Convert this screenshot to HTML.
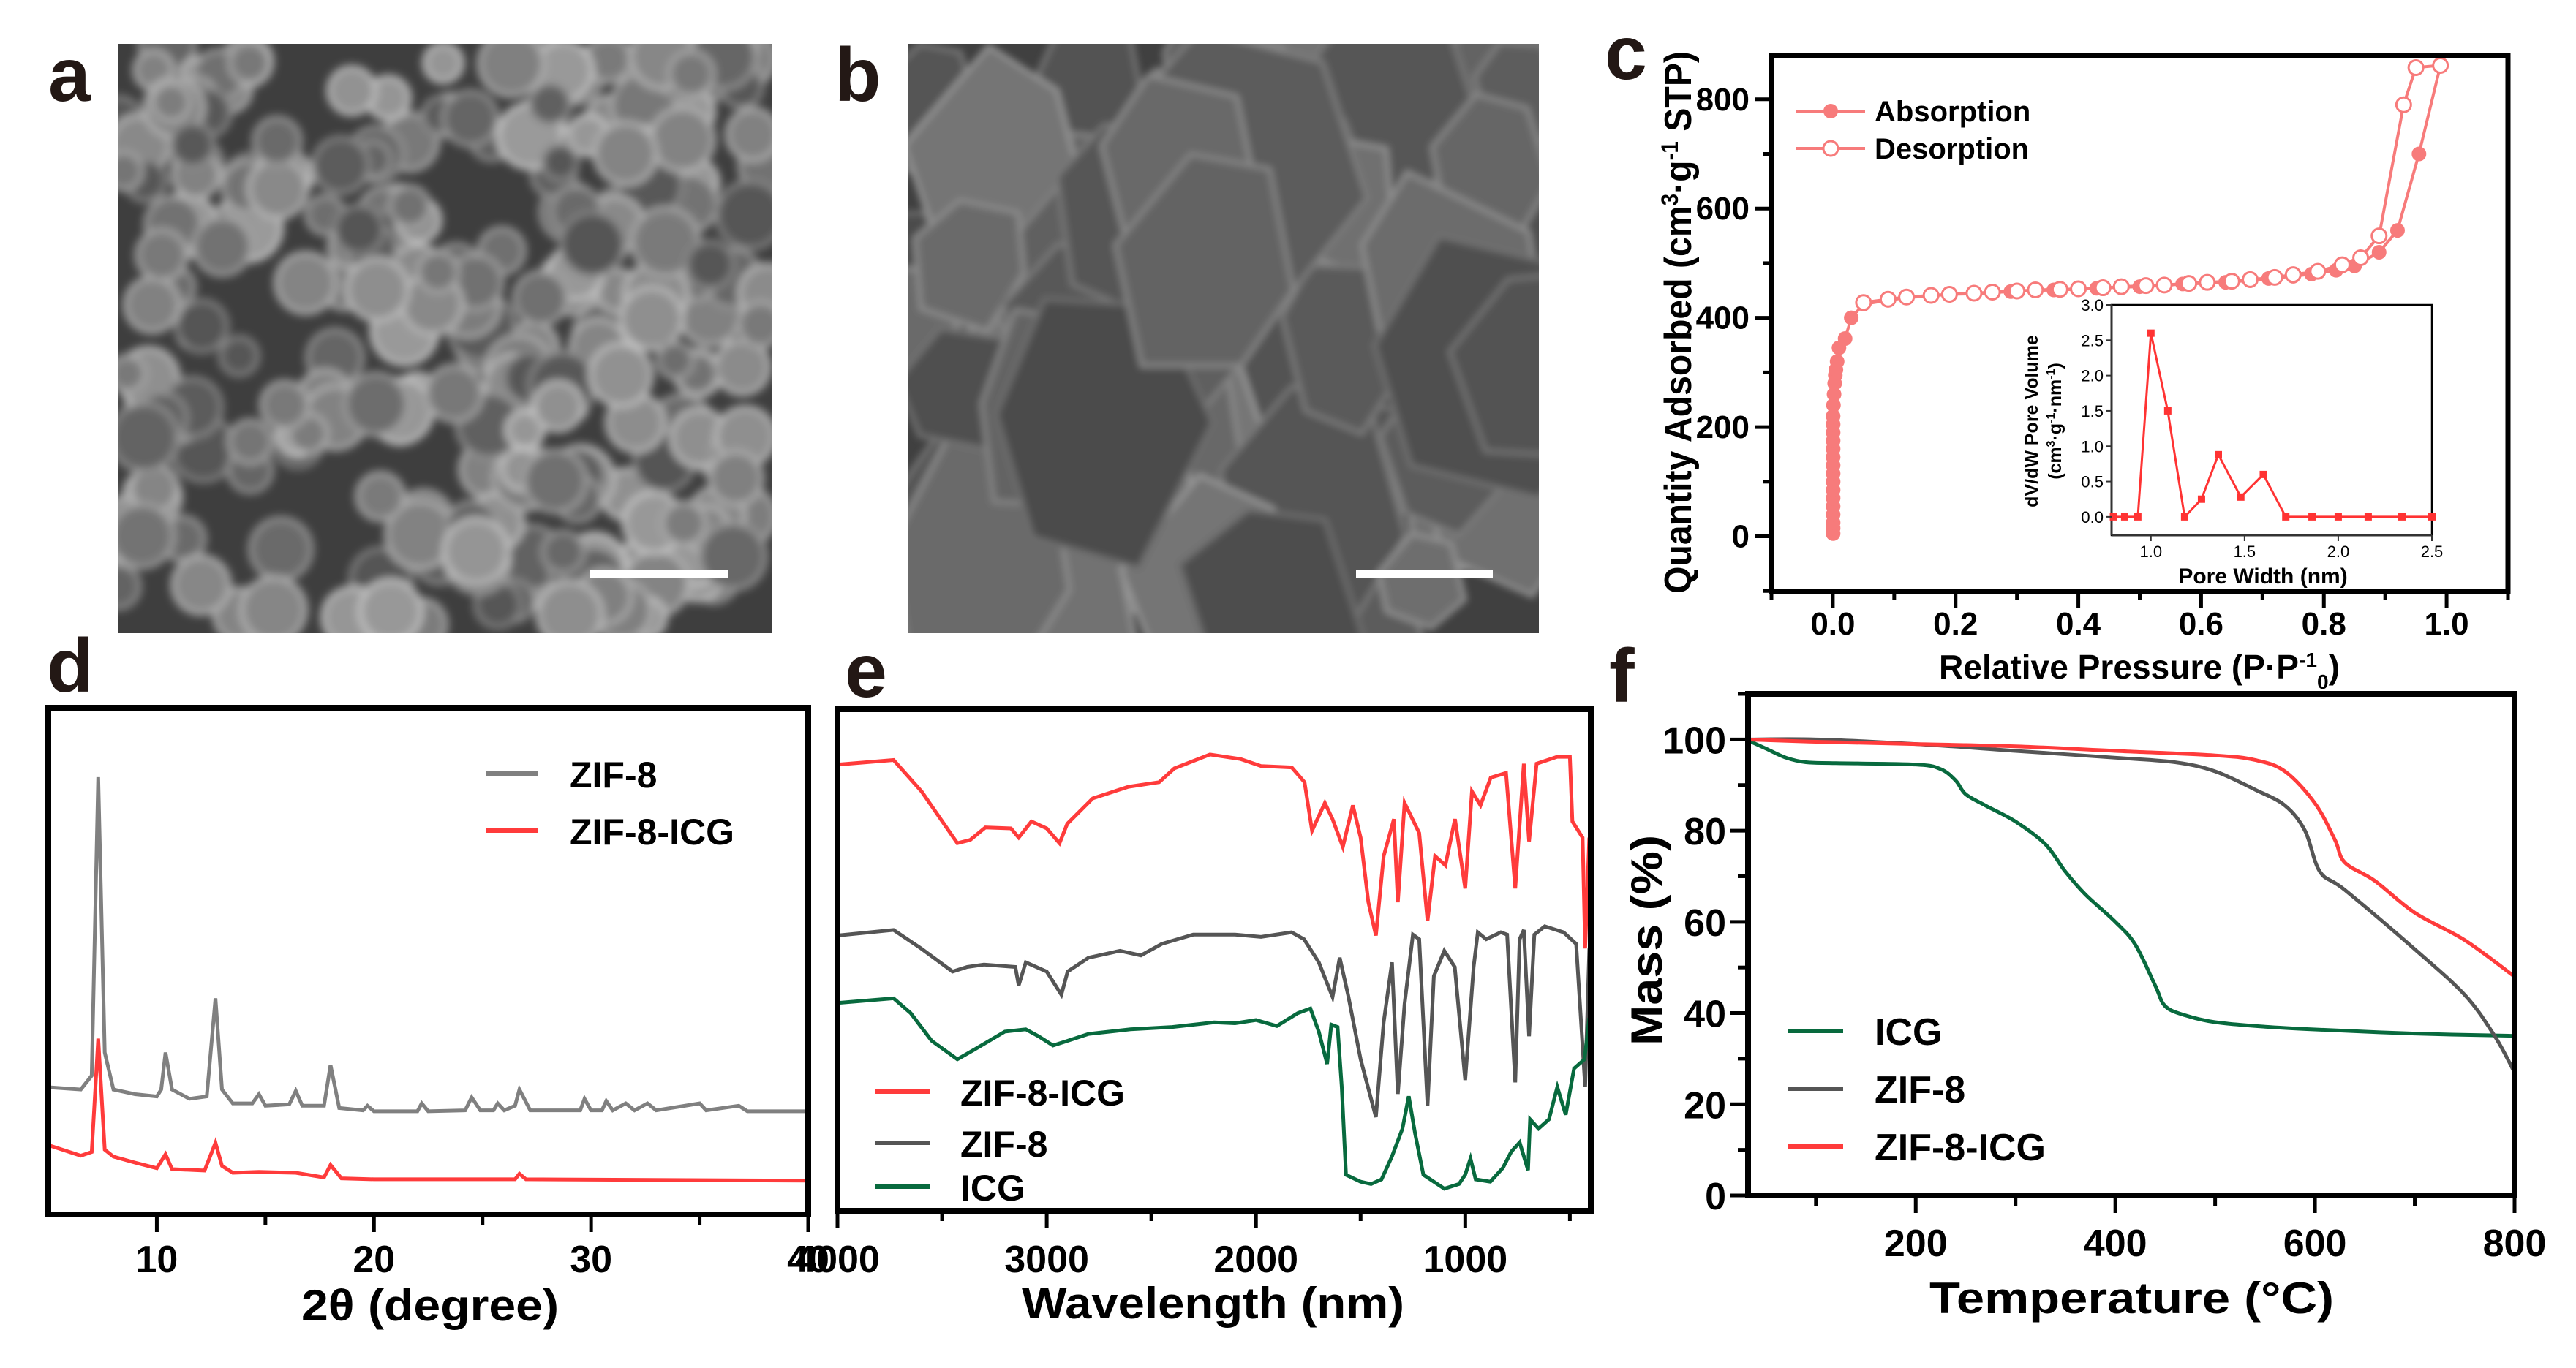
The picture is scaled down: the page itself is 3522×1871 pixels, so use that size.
<!DOCTYPE html>
<html><head><meta charset="utf-8"><style>
html,body{margin:0;padding:0;background:#fff;}
svg{display:block;font-family:"Liberation Sans",Arial,sans-serif;font-weight:bold;}
</style></head><body>
<svg id="fig" xmlns="http://www.w3.org/2000/svg" width="3522" height="1871" viewBox="0 0 3522 1871">
<defs>
<clipPath id="clipA"><rect x="161" y="60" width="894" height="806"/></clipPath>
<clipPath id="clipB"><rect x="1241" y="60" width="863" height="806"/></clipPath>
<filter id="blurA" x="-5%" y="-5%" width="110%" height="110%"><feGaussianBlur stdDeviation="6"/></filter>
<filter id="blurB" x="-5%" y="-5%" width="110%" height="110%"><feGaussianBlur stdDeviation="5"/></filter>
</defs>
<g id="semA" clip-path="url(#clipA)"><rect x="161" y="60" width="894" height="806" fill="#3e3e3e"/></g>
<g id="semB" clip-path="url(#clipB)"><rect x="1241" y="60" width="863" height="806" fill="#404040"/></g>
<rect x="806" y="780" width="190" height="10" fill="#fff"/>
<rect x="1854" y="780" width="187" height="10" fill="#fff"/>
<g font-size="104" fill="#231815">
<text x="66" y="138">a</text>
<text x="1141" y="138">b</text>
<text x="2194" y="108">c</text>
<text x="64" y="946">d</text>
<text x="1155" y="953">e</text>
<text x="2200" y="960">f</text>
</g>
<g id="panelC"></g>
<g id="panelE"></g>
<g id="panelD"></g>
<g id="panelF"></g>
</svg>
<script>
// ---------- Panel c data ----------
const cAdsX = [0.0005,0.0005,0.0005,0.0005,0.0005,0.0005,0.0005,0.0005,0.0005,0.0005,0.0005,0.0005,0.0005,0.0005,0.0005,0.0005,0.001,0.002,0.003,0.004,0.005,0.007,0.01,0.02,0.03,0.05,0.09,0.12,0.16,0.19,0.23,0.26,0.29,0.33,0.36,0.40,0.43,0.47,0.50,0.54,0.57,0.61,0.64,0.68,0.71,0.75,0.78,0.82,0.85,0.89,0.92,0.955,0.99];
const cAdsY = [5,15,25,40,55,70,85,100,115,130,145,160,175,190,205,220,240,260,280,295,305,320,345,362,400,425,432,437,440,443,444,446,448,450,451,452,454,456,457,459,462,463,465,468,472,476,480,487,495,520,560,700,862];
const cDesX = [0.99,0.95,0.93,0.89,0.86,0.83,0.79,0.75,0.72,0.68,0.65,0.61,0.58,0.54,0.51,0.47,0.44,0.40,0.37,0.33,0.30,0.26,0.23,0.19,0.16,0.12,0.09,0.05];
const cDesY = [862,858,790,550,510,497,485,479,474,470,467,465,463,460,459,457,455,453,452,451,449,447,445,443,441,438,434,428];
const cXTicks = [0.0,0.2,0.4,0.6,0.8,1.0];
const cYTicks = [0,200,400,600,800];
const inW = [0.80,0.86,0.93,1.00,1.09,1.18,1.27,1.36,1.48,1.60,1.72,1.86,2.00,2.16,2.34,2.50];
const inV = [0,0,0,2.6,1.5,0,0.25,0.88,0.28,0.6,0,0,0,0,0,0];
const inXTicks = [1.0,1.5,2.0,2.5];
const inYTicks = [0.0,0.5,1.0,1.5,2.0,2.5,3.0];
// ---------- Panel d data ----------
const dTheta = [5,6.5,7.0,7.3,7.6,8,9,10,10.2,10.4,10.7,11.5,12.3,12.7,13.0,13.5,14.4,14.7,15,16.1,16.4,16.7,17.7,18.0,18.4,19.5,19.7,20,22,22.2,22.5,24.2,24.5,24.9,25.5,25.7,26,26.5,26.7,27.2,29.5,29.7,30,30.5,30.7,31,31.6,32,32.6,33,35,35.3,36.8,37.2,40];
const dZif = [275,270,300,945,350,270,260,255,270,350,270,250,255,467,270,240,240,260,235,238,267,235,235,323,230,225,235,223,223,240,223,225,253,225,225,240,225,235,270,225,225,250,225,225,245,225,240,225,240,225,240,225,235,223,223];
const dTheta2 = [5,6.5,7.0,7.3,7.6,8,9,10,10.4,10.7,12.2,12.7,13.0,13.5,14.7,16.4,17.7,18.0,18.5,20,26.5,26.7,27,40];
const dIcg = [150,127,135,380,140,125,112,100,130,98,95,155,105,90,92,90,80,107,78,76,76,88,76,73];
const dXTicks = [10,20,30,40];
// ---------- Panel e data ----------
const eWnR = [4000,3732,3598,3427,3366,3293,3171,3134,3073,3000,2939,2902,2780,2610,2463,2390,2220,2073,1976,1829,1768,1732,1671,1634,1585,1537,1500,1463,1427,1390,1341,1322,1290,1220,1180,1144,1095,1049,1000,968,927,878,805,761,720,695,659,561,500,488,439,427,407];
const eRed = [966,976,908,796,803,830,828,808,843,828,796,838,893,918,928,958,988,978,963,960,928,823,883,848,788,878,808,668,596,768,848,668,883,818,628,768,748,848,698,908,878,938,948,698,968,800,968,983,983,843,808,568,808];
const eWnG = [4000,3732,3600,3450,3380,3300,3150,3134,3100,3000,2930,2900,2800,2650,2550,2450,2300,2100,1976,1830,1770,1700,1634,1600,1560,1500,1427,1390,1350,1322,1290,1250,1220,1180,1150,1100,1050,1000,960,940,900,830,800,761,740,720,695,670,620,530,470,427,407];
const eZif = [596,608,568,518,528,533,528,488,538,518,468,518,548,563,553,578,598,598,593,603,588,538,463,548,468,328,203,408,538,253,448,598,588,228,508,563,528,283,528,603,588,603,598,278,588,608,378,598,616,603,578,268,568];
const eWnI = [4000,3732,3650,3550,3427,3350,3200,3100,3040,2970,2900,2800,2600,2400,2200,2100,2000,1900,1800,1740,1700,1660,1640,1610,1590,1570,1500,1450,1400,1350,1300,1270,1240,1200,1100,1030,1000,975,950,880,820,780,740,700,690,650,600,560,520,480,430,407];
const eIcg = [450,460,428,368,328,348,388,393,378,358,368,383,393,398,408,406,413,400,428,438,388,318,403,398,268,78,63,58,68,118,178,248,168,78,48,58,78,113,68,63,93,128,148,88,198,178,198,268,208,308,328,418];
const eXTicks = [4000,3000,2000,1000];
// ---------- Panel f data ----------
const fT1 = [30,50,70,90,120,200,225,240,250,270,300,330,350,370,400,420,440,450,470,500,550,600,700,800];
const fIcg = [100,98,96,95,94.8,94.5,93.5,91,88,85.5,82,77,71,66,60,55,46,41.5,39.5,38,37,36.4,35.5,35];
const fT2 = [30,100,200,300,400,460,500,540,570,590,605,630,700,750,780,800];
const fZif = [100,100,99,97.5,96,95,93,89,85.5,80,71,67,54,44,35,27];
const fT3 = [30,100,200,300,400,500,540,570,600,620,630,660,700,750,800];
const fZifIcg = [100,99.5,99,98.5,97.5,96.5,95.5,93,86,78,73,69,62,56,48];
const fXTicks = [200,400,600,800];
const fYTicks = [0,20,40,60,80,100];

const NS='http://www.w3.org/2000/svg';
function mk(parent,tag,attrs,text){const e=document.createElementNS(NS,tag);for(const k in attrs)e.setAttribute(k,attrs[k]);if(text!==undefined)e.textContent=text;parent.appendChild(e);return e;}
function lin(d0,d1,r0,r1){return v=>r0+(v-d0)*(r1-r0)/(d1-d0);}
function pathD(xs,ys,X,Y){return xs.map((v,i)=>(i?'L':'M')+X(v).toFixed(1)+' '+Y(ys[i]).toFixed(1)).join(' ');}
function smoothD(xs,ys,X,Y){const p=xs.map((v,i)=>[X(v),Y(ys[i])]);let d='M'+p[0][0]+' '+p[0][1];for(let i=0;i<p.length-1;i++){const p0=p[i-1]||p[i],p1=p[i],p2=p[i+1],p3=p[i+2]||p2;const c1=[p1[0]+(p2[0]-p0[0])/6,p1[1]+(p2[1]-p0[1])/6],c2=[p2[0]-(p3[0]-p1[0])/6,p2[1]-(p3[1]-p1[1])/6];d+=' C'+c1.join(' ')+' '+c2.join(' ')+' '+p2.join(' ');}return d;}

// ---------- SEM textures (decorative) ----------
let seed=7;function rnd(){seed=(seed*16807)%2147483647;return seed/2147483647;}
(function(){
 const gA=document.getElementById('semA');
 const ga=mk(gA,'g',{filter:'url(#blurA)'});
 for(let i=0;i<240;i++){const cx=161+rnd()*894,cy=60+rnd()*806,r=24+rnd()*22;const sh=Math.floor(85+rnd()*70);
  const c=mk(ga,'circle',{cx:cx.toFixed(0),cy:cy.toFixed(0),r:r.toFixed(0),fill:'rgb('+sh+','+sh+','+sh+')',stroke:'rgb('+(sh+55)+','+(sh+55)+','+(sh+55)+')','stroke-width':5});
  
  }
 const gB=document.getElementById('semB');
 const gb=mk(gB,'g',{filter:'url(#blurB)'});
 for(let i=0;i<70;i++){const cx=1241+rnd()*863,cy=60+rnd()*806,r=60+rnd()*110;const sh=Math.floor(75+rnd()*45);
  let pts=[];for(let k=0;k<6;k++){const a=k*Math.PI/3+rnd()*0.4;pts.push((cx+Math.cos(a)*r*(0.8+rnd()*0.3)).toFixed(0)+','+(cy+Math.sin(a)*r*(1+rnd()*0.4)).toFixed(0));}
  const p=mk(gb,'polygon',{points:pts.join(' '),fill:'rgb('+sh+','+sh+','+sh+')',stroke:'rgb('+(sh+35)+','+(sh+35)+','+(sh+35)+')','stroke-width':6});
  
  }
})();

// ---------- Panel c ----------
(function(){
 const g=document.getElementById('panelC');
 const X=lin(-0.1,1.1,2422,3429),Y=lin(-101,880,809,76);
 const col='#f77b7b';
 mk(g,'path',{d:pathD(cAdsX,cAdsY,X,Y),fill:'none',stroke:col,'stroke-width':4});
 mk(g,'path',{d:pathD(cDesX,cDesY,X,Y),fill:'none',stroke:col,'stroke-width':4});
 cAdsX.forEach((v,i)=>{const c=mk(g,'circle',{cx:X(v),cy:Y(cAdsY[i]),r:10,fill:col});});
 cDesX.forEach((v,i)=>{const c=mk(g,'circle',{cx:X(v),cy:Y(cDesY[i]),r:10,fill:'#fff',stroke:col,'stroke-width':3});});
 const fr=mk(g,'rect',{x:2422,y:76,width:1007,height:733,fill:'none',stroke:'#000','stroke-width':7});
 
 for(let t=-0.1;t<=1.101;t+=0.1){const maj=Math.abs(Math.round(t*10)%2)===0;mk(g,'line',{x1:X(t),x2:X(t),y1:809,y2:809+(maj?22:12),stroke:'#000','stroke-width':5});}
 cXTicks.forEach(t=>{const e=mk(g,'text',{x:X(t),y:868,'font-size':44,'text-anchor':'middle'},t.toFixed(1));});
 for(let t=-100;t<=850;t+=100){const maj=t%200===0;mk(g,'line',{x1:2422,x2:2422-(maj?22:12),y1:Y(t),y2:Y(t),stroke:'#000','stroke-width':5});}
 cYTicks.forEach(t=>{const e=mk(g,'text',{x:2392,y:Y(t)+15,'font-size':44,'text-anchor':'end'},t);});
 const xt=mk(g,'text',{x:2651,y:928,'font-size':46,textLength:548,lengthAdjust:'spacingAndGlyphs'});
 
 xt.innerHTML='Relative Pressure (P·P<tspan dy="-16" font-size="28">-1</tspan><tspan dy="30" font-size="28">0</tspan><tspan dy="-14">)</tspan>';
 const yt=mk(g,'text',{transform:'translate(2312,812) rotate(-90)','font-size':52,textLength:742,lengthAdjust:'spacingAndGlyphs'});
 
 yt.innerHTML='Quantity Adsorbed (cm<tspan dy="-18" font-size="32">3</tspan><tspan dy="18">·g</tspan><tspan dy="-18" font-size="32">-1</tspan><tspan dy="18"> STP)</tspan>';
 const l1=mk(g,'g',{});
 mk(l1,'line',{x1:2456,x2:2550,y1:152,y2:152,stroke:col,'stroke-width':4});mk(l1,'circle',{cx:2503,cy:152,r:10,fill:col});
 mk(l1,'text',{x:2563,y:166,'font-size':40},'Absorption');
 const l2=mk(g,'g',{});
 mk(l2,'line',{x1:2456,x2:2550,y1:203,y2:203,stroke:col,'stroke-width':4});mk(l2,'circle',{cx:2503,cy:203,r:10,fill:'#fff',stroke:col,'stroke-width':3});
 mk(l2,'text',{x:2563,y:217,'font-size':40},'Desorption');
 const ig=mk(g,'g',{});
 const IX=lin(0.79,2.5,2887,3325),IY=lin(-0.26,3.0,732,417);
 mk(ig,'rect',{x:2887,y:417,width:438,height:315,fill:'#fff',stroke:'#000','stroke-width':2.5});
 mk(ig,'line',{x1:2887,x2:2887,y1:417,y2:732,stroke:'#333','stroke-width':3});
 mk(ig,'line',{x1:2887,x2:3325,y1:732,y2:732,stroke:'#333','stroke-width':3});
 mk(ig,'path',{d:pathD(inW,inV,IX,IY),fill:'none',stroke:'#f33','stroke-width':3});
 inW.forEach((v,i)=>{const r=mk(ig,'rect',{x:IX(v)-5,y:IY(inV[i])-5,width:10,height:10,fill:'#f33'});});
 inYTicks.forEach(t=>{mk(ig,'line',{x1:2887,x2:2879,y1:IY(t),y2:IY(t),stroke:'#333','stroke-width':2});const e=mk(ig,'text',{x:2876,y:IY(t)+8,'font-size':22,'text-anchor':'end','font-weight':'normal'},t.toFixed(1));});
 inXTicks.forEach(t=>{mk(ig,'line',{x1:IX(t),x2:IX(t),y1:732,y2:740,stroke:'#333','stroke-width':2});const e=mk(ig,'text',{x:IX(t),y:762,'font-size':22,'text-anchor':'middle','font-weight':'normal'},t.toFixed(1));});
 const ixt=mk(ig,'text',{x:3094,y:798,'font-size':30,'text-anchor':'middle'},'Pore Width (nm)');
 const iy1=mk(ig,'text',{transform:'translate(2786,576) rotate(-90)','font-size':25,'text-anchor':'middle'},'dV/dW Pore Volume');
 const iy2=mk(ig,'text',{transform:'translate(2818,576) rotate(-90)','font-size':25,'text-anchor':'middle'});
 iy2.innerHTML='(cm<tspan dy="-9" font-size="16">3</tspan><tspan dy="9">·g</tspan><tspan dy="-9" font-size="16">-1</tspan><tspan dy="9">·nm</tspan><tspan dy="-9" font-size="16">-1</tspan><tspan dy="9">)</tspan>';
})();

// ---------- Panel d ----------
(function(){
 const g=document.getElementById('panelD');
 const X=lin(5,40,66,1105),Y=lin(0,1095,1661,968);
 const s1=mk(g,'path',{d:pathD(dTheta,dZif,X,Y),fill:'none',stroke:'#808080','stroke-width':5});
 const s2=mk(g,'path',{d:pathD(dTheta2,dIcg,X,Y),fill:'none',stroke:'#ff3b3b','stroke-width':5});
 const fr=mk(g,'rect',{x:66,y:968,width:1039,height:693,fill:'none',stroke:'#000','stroke-width':8});
 [10,15,20,25,30,35,40].forEach(t=>mk(g,'line',{x1:X(t),x2:X(t),y1:1661,y2:1661+(t%10===0?24:14),stroke:'#000','stroke-width':5}));
 dXTicks.forEach(t=>{const e=mk(g,'text',{x:X(t),y:1740,'font-size':52,'text-anchor':'middle'},t);});
 const xt=mk(g,'text',{x:412,y:1806,'font-size':60,textLength:352,lengthAdjust:'spacingAndGlyphs'},'2θ (degree)');
 const l1=mk(g,'g',{});
 mk(l1,'line',{x1:664,x2:736,y1:1058,y2:1058,stroke:'#808080','stroke-width':6});mk(l1,'text',{x:779,y:1077,'font-size':50},'ZIF-8');
 const l2=mk(g,'g',{});
 mk(l2,'line',{x1:664,x2:736,y1:1136,y2:1136,stroke:'#ff3b3b','stroke-width':6});mk(l2,'text',{x:779,y:1155,'font-size':50},'ZIF-8-ICG');
})();

// ---------- Panel e ----------
(function(){
 const g=document.getElementById('panelE');
 const X=lin(4000,400,1145,2175),Y=lin(0,1086,1656,970);
 const s1=mk(g,'path',{d:pathD(eWnR,eRed,X,Y),fill:'none',stroke:'#ff3b3b','stroke-width':5});
 const s2=mk(g,'path',{d:pathD(eWnG,eZif,X,Y),fill:'none',stroke:'#555','stroke-width':5});
 const s3=mk(g,'path',{d:pathD(eWnI,eIcg,X,Y),fill:'none',stroke:'#086a3e','stroke-width':5});
 const fr=mk(g,'rect',{x:1145,y:970,width:1030,height:686,fill:'none',stroke:'#000','stroke-width':8});
 [4000,3500,3000,2500,2000,1500,1000,500].forEach(t=>mk(g,'line',{x1:X(t),x2:X(t),y1:1656,y2:1656+(t%1000===0?24:14),stroke:'#000','stroke-width':5}));
 eXTicks.forEach(t=>{const e=mk(g,'text',{x:X(t),y:1740,'font-size':52,'text-anchor':'middle'},t);});
 const xt=mk(g,'text',{x:1397,y:1803,'font-size':60,textLength:523,lengthAdjust:'spacingAndGlyphs'},'Wavelength (nm)');
 [['ZIF-8-ICG','#ff3b3b',1493],['ZIF-8','#555',1563],['ICG','#086a3e',1623]].forEach(([n,c,y])=>{const lg=mk(g,'g',{});
  
  
  mk(lg,'line',{x1:1197,x2:1271,y1:y,y2:y,stroke:c,'stroke-width':6});mk(lg,'text',{x:1313,y:y+19,'font-size':50},n);});
})();

// ---------- Panel f ----------
(function(){
 const g=document.getElementById('panelF');
 const X=lin(32,800,2390,3438),Y=lin(0,110,1635,949);
 const s1=mk(g,'path',{d:smoothD(fT1,fIcg,X,Y),fill:'none',stroke:'#086a3e','stroke-width':5});
 const s2=mk(g,'path',{d:smoothD(fT2,fZif,X,Y),fill:'none',stroke:'#555','stroke-width':5});
 const s3=mk(g,'path',{d:smoothD(fT3,fZifIcg,X,Y),fill:'none',stroke:'#ff3b3b','stroke-width':5});
 const fr=mk(g,'rect',{x:2390,y:949,width:1048,height:686,fill:'none',stroke:'#000','stroke-width':8});
 [100,200,300,400,500,600,700,800].forEach(t=>mk(g,'line',{x1:X(t),x2:X(t),y1:1635,y2:1635+(t%200===0?24:14),stroke:'#000','stroke-width':5}));
 [0,10,20,30,40,50,60,70,80,90,100,110].forEach(t=>mk(g,'line',{x1:2390,x2:2390-(t%20===0?24:14),y1:Y(t),y2:Y(t),stroke:'#000','stroke-width':5}));
 fXTicks.forEach(t=>{const e=mk(g,'text',{x:X(t),y:1718,'font-size':52,'text-anchor':'middle'},t);});
 fYTicks.forEach(t=>{const e=mk(g,'text',{x:2360,y:Y(t)+19,'font-size':52,'text-anchor':'end'},t);});
 const xt=mk(g,'text',{x:2638,y:1796,'font-size':60,textLength:553,lengthAdjust:'spacingAndGlyphs'},'Temperature (°C)');
 const yt=mk(g,'text',{transform:'translate(2272,1430) rotate(-90)','font-size':60,textLength:288,lengthAdjust:'spacingAndGlyphs'},'Mass (%)');
 [['ICG','#086a3e',1410],['ZIF-8','#555',1489],['ZIF-8-ICG','#ff3b3b',1568]].forEach(([n,c,y])=>{const lg=mk(g,'g',{});
  
  
  mk(lg,'line',{x1:2445,x2:2520,y1:y,y2:y,stroke:c,'stroke-width':6});mk(lg,'text',{x:2563,y:y+19,'font-size':52},n);});
})();
</script>
</body></html>
